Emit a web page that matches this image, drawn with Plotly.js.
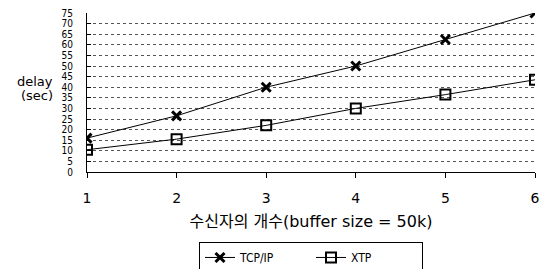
<!DOCTYPE html>
<html>
<head>
<meta charset="utf-8">
<script src="https://cdn.plot.ly/plotly-3.0.1.min.js"></script>
<style>html,body{margin:0;padding:0;background:#fff;}#chart{width:545px;height:269px;}</style>
</head>
<body>
<div id="chart"></div>
<script>
const receivers = [1, 2, 3, 4, 5, 6];
const tcpIp = [16, 26.5, 40, 50, 62.5, 75];
const xtp = [10.5, 15.5, 22, 30, 36.5, 43.5];
const yTicks = [0,5,10,15,20,25,30,35,40,45,50,55,60,65,70,75];
const seriesNames = ['TCP/IP', 'XTP'];
const xTitle = '수신자의 개수(buffer size = 50k)';
const yTitleLines = ['delay', '(sec)'];

const FONT = 'DejaVu Sans, Noto Sans CJK KR, sans-serif';
const NARROW = 'Liberation Sans Narrow, DejaVu Sans Condensed, Liberation Sans, sans-serif';

const traces = [
  {
    x: receivers, y: tcpIp, name: seriesNames[0], type: 'scatter', mode: 'lines+markers',
    line: {color: '#000', width: 1},
    marker: {symbol: 'x-thin-open', size: 9, color: '#000', line: {color: '#000', width: 3}}
  },
  {
    x: receivers, y: xtp, name: seriesNames[1], type: 'scatter', mode: 'lines+markers',
    line: {color: '#000', width: 1},
    marker: {symbol: 'square-open', size: 10, color: '#000', line: {color: '#000', width: 2}}
  }
];

const layout = {
  width: 545, height: 269,
  margin: {l: 87, r: 10, t: 13, b: 97, autoexpand: false},
  paper_bgcolor: '#fff', plot_bgcolor: '#fff',
  font: {family: FONT, color: '#000', size: 13},
  showlegend: true,
  legend: {
    orientation: 'h', x: 0.5, xanchor: 'center', y: -0.44, yanchor: 'top',
    bordercolor: '#000', borderwidth: 1, bgcolor: '#fff',
    font: {family: NARROW, size: 12, color: '#000'},
    entrywidth: 66, tracegroupgap: 0, valign: 'middle'
  },
  xaxis: {
    range: [1, 6], tickvals: receivers, ticktext: receivers.map(String),
    showgrid: false, zeroline: false, automargin: false,
    showline: true, linecolor: '#000', linewidth: 1,
    ticks: 'outside', ticklen: 5, tickcolor: '#000',
    tickfont: {family: FONT, size: 14},
    ticklabelstandoff: 8,
    title: {text: xTitle, font: {family: FONT, size: 16}, standoff: 11}
  },
  xaxis2: {
    range: [1, 6], overlaying: 'x', tickvals: receivers, showticklabels: false,
    showgrid: false, zeroline: false, ticks: 'inside', ticklen: 5, tickcolor: '#000',
    anchor: 'y', side: 'bottom', automargin: false
  },
  yaxis: {
    range: [0, 75], tickvals: yTicks, ticktext: yTicks.map(String),
    showgrid: true, gridcolor: '#555', griddash: 'dot', gridwidth: 1,
    zeroline: false, showline: true, linecolor: '#000', linewidth: 1, automargin: false,
    ticks: 'inside', ticklen: 4, tickcolor: '#000',
    tickfont: {family: NARROW, size: 10},
    ticklabelstandoff: 11
  },
  annotations: [
    {text: yTitleLines[0], xref: 'paper', yref: 'paper', x: -0.072, y: 0.567, xanchor: 'right', yanchor: 'middle',
     showarrow: false, font: {family: FONT, size: 13, color: '#000'}},
    {text: yTitleLines[1], xref: 'paper', yref: 'paper', x: -0.072, y: 0.478, xanchor: 'right', yanchor: 'middle',
     showarrow: false, font: {family: FONT, size: 13, color: '#000'}}
  ]
};

Plotly.newPlot('chart', traces, layout, {staticPlot: true, displayModeBar: false});
</script>
</body>
</html>
